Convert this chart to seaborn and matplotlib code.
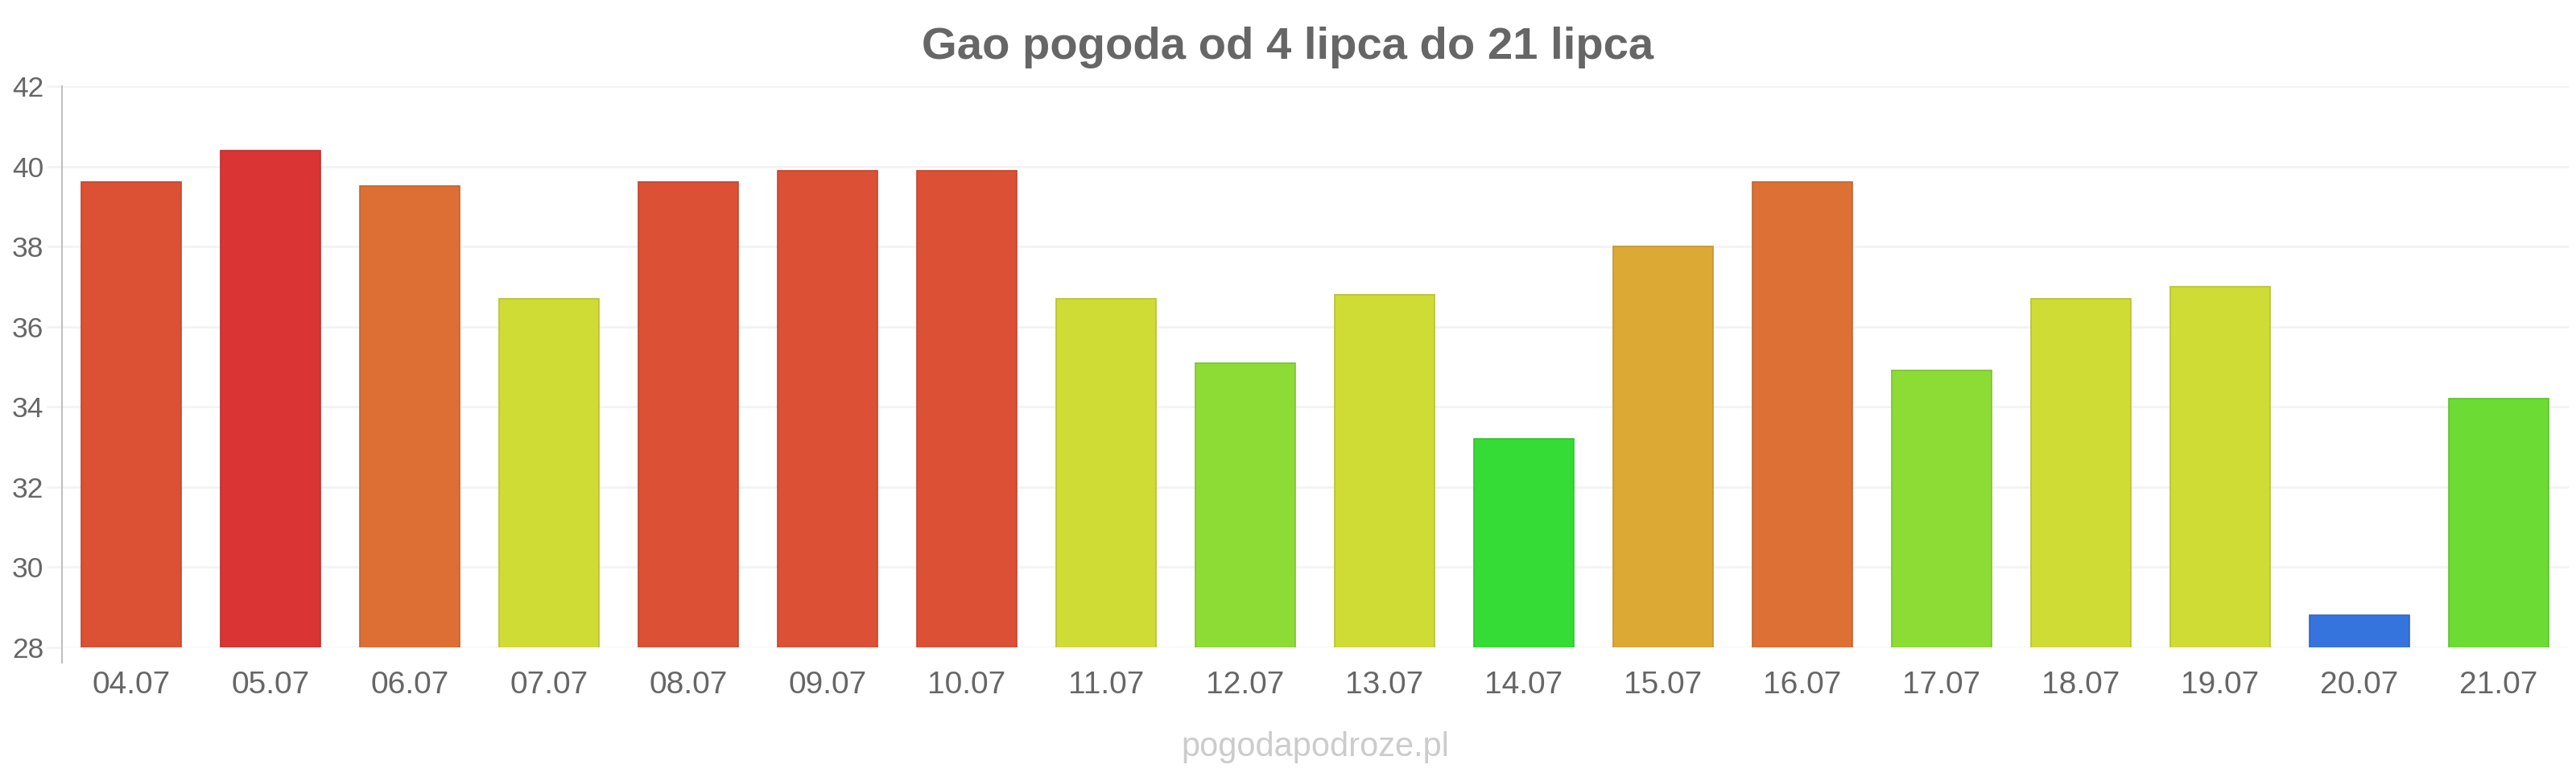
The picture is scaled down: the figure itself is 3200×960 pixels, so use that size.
import matplotlib
matplotlib.use("Agg")
import matplotlib.pyplot as plt
import seaborn as sns
import pandas as pd

# ---- data ----
days = ["04.07", "05.07", "06.07", "07.07", "08.07", "09.07", "10.07", "11.07", "12.07",
        "13.07", "14.07", "15.07", "16.07", "17.07", "18.07", "19.07", "20.07", "21.07"]
temps = [39.6, 40.4, 39.5, 36.7, 39.6, 39.9, 39.9, 36.7, 35.1,
         36.8, 33.2, 38.0, 39.6, 34.9, 36.7, 37.0, 28.8, 34.2]
bar_colors = ["#dc5034", "#da3435", "#dd6f35", "#cfdc35", "#dc5035", "#dc5035", "#dc5035",
              "#cfdc35", "#8cdc35", "#cfdc35", "#35dc35", "#dca935", "#dd7035", "#8cdc35",
              "#cfdc35", "#cfdc35", "#3574dc", "#6cdc35"]
y_ticks = [28, 30, 32, 34, 36, 38, 40, 42]
title = "Gao pogoda od 4 lipca do 21 lipca"
watermark = "pogodapodroze.pl"

sns.set_theme(style="white")
plt.rcParams["font.family"] = ["Liberation Sans", "DejaVu Sans"]

df = pd.DataFrame({"day": days, "temp": temps})

W, H, DPI = 3200, 960, 100
fig = plt.figure(figsize=(W / DPI, H / DPI), dpi=DPI)
ax = fig.add_axes([76.5 / W, 1 - 804 / H, 3114 / W, (804 - 107) / H])

sns.barplot(data=df, x="day", y="temp", hue="day", palette=bar_colors, legend=False,
            width=0.72, ax=ax, saturation=1, zorder=3)

def darker(c, f=0.88):
    r, g, b = matplotlib.colors.to_rgb(c)
    return (r * f, g * f, b * f)

for patch, c in zip(ax.patches, bar_colors):
    patch.set_edgecolor(darker(c))
    patch.set_linewidth(1.2)

ax.set_ylim(28, 42)
ax.set_xlim(-0.5, len(days) - 0.5)
ax.set_yticks(y_ticks)
ax.set_yticklabels([str(t) for t in y_ticks])
ax.set_xlabel("")
ax.set_ylabel("")

ax.grid(axis="y", color="#f3f3f3", linewidth=2, zorder=0)
ax.grid(axis="x", visible=False)
for s in ["top", "right", "bottom"]:
    ax.spines[s].set_visible(False)
ax.spines["left"].set_color("#c0c0c0")
ax.spines["left"].set_linewidth(1.5)
ax.spines["left"].set_bounds(27.62, 42)

ax.tick_params(axis="y", length=14, width=2, color="#f3f3f3", labelsize=25.5,
               labelcolor="#666666", pad=2, left=True)
ax.tick_params(axis="x", length=0, labelsize=28, labelcolor="#666666", pad=21)

fig.text(0.5, 1 - 73 / H, title, ha="center", va="baseline", fontsize=40.5,
         fontweight="bold", color="#666666")
fig.text((76.5 + 3190.5) / 2 / W, 1 - 939 / H, watermark, ha="center", va="baseline",
         fontsize=30, color="#cccccc")

fig.savefig("out.png", dpi=DPI)
